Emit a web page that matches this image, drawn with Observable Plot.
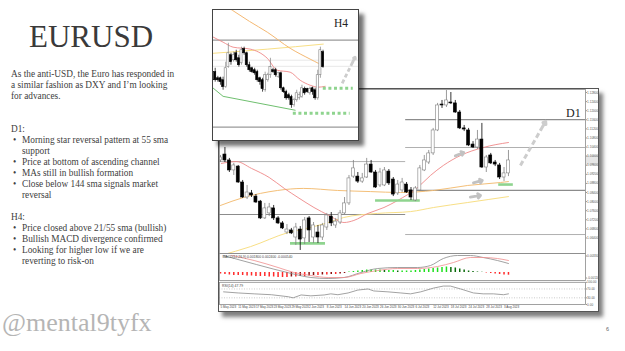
<!DOCTYPE html>
<html>
<head>
<meta charset="utf-8">
<script src="https://cdn.jsdelivr.net/npm/d3@7"></script>
<script src="https://cdn.jsdelivr.net/npm/@observablehq/plot@0.6"></script>
<style>
html,body{margin:0;padding:0;background:#fff;}
#slide{position:relative;width:625px;height:351px;overflow:hidden;background:#fff;font-family:"Liberation Serif","Times New Roman",serif;color:#404040;}
.abs{position:absolute;}
#title{left:29px;top:21px;font-size:31px;line-height:31px;color:#3a3a3a;white-space:nowrap;}
#body{left:11px;top:69.4px;font-size:9.3px;line-height:11px;white-space:nowrap;}
.li{position:relative;padding-left:11px;}
.li .b{position:absolute;left:2px;}
#handle{left:2px;top:310px;font-size:26px;line-height:26px;color:#b5b5b5;white-space:nowrap;}
#pnum{left:606px;top:326px;font-size:5.5px;color:#666;font-family:"Liberation Sans",Arial,sans-serif;}
#d1frame{left:218px;top:88px;width:379px;height:222px;border:1px solid #555;background:#fff;box-shadow:4px 5px 4px rgba(0,0,0,.5);overflow:hidden;}
#h4frame{left:212px;top:9px;width:145px;height:130px;border:1.3px solid #444;background:#fff;box-shadow:5px 5px 4px rgba(0,0,0,.55);overflow:hidden;}
.panel{position:absolute;left:0;}
.lbl{position:absolute;font-family:"Liberation Serif","Times New Roman",serif;color:#222;white-space:nowrap;}
#pricebox{position:absolute;left:367px;top:66px;width:12px;height:10px;background:#e6e6e6;}
svg{display:block;}
</style>
</head>
<body>
<div id="slide">
  <div id="title" class="abs">EURUSD</div>
  <div id="body" class="abs">As the anti-USD, the Euro has responded in<br>a similar fashion as DXY and I’m looking<br>for advances.<br><br><br>D1:
    <div class="li"><span class="b">•</span>Morning star reversal pattern at 55 sma<br>support</div>
    <div class="li"><span class="b">•</span>Price at bottom of ascending channel</div>
    <div class="li"><span class="b">•</span>MAs still in bullish formation</div>
    <div class="li"><span class="b">•</span>Close below 144 sma signals market<br>reversal</div>
    <br>H4:
    <div class="li"><span class="b">•</span>Price closed above 21/55 sma (bullish)</div>
    <div class="li"><span class="b">•</span>Bullish MACD divergence confirmed</div>
    <div class="li"><span class="b">•</span>Looking for higher low if we are<br>reverting to risk-on</div>
  </div>
  <div id="handle" class="abs">@mental9tyfx</div>
  <div id="pnum" class="abs">6</div>
  <div id="d1frame" class="abs">
    <div id="pricebox"></div>
    <div id="d1price" class="panel" style="top:0"></div>
    <div id="d1macd" class="panel" style="top:164px"></div>
    <div id="d1rsi" class="panel" style="top:191px"></div>
    <div class="lbl" style="left:347px;top:17.5px;font-size:12px;line-height:12px;">D1</div>
  </div>
  <div id="h4frame" class="abs">
    <div id="h4price" class="panel" style="top:0"></div>
    <div class="lbl" style="left:121px;top:8px;font-size:11.5px;line-height:11.5px;">H4</div>
  </div>
</div>
<script>
// ---------------- D1 data ----------------
const d1Dates = ["5 May 2023","8 May 2023","9 May 2023","10 May 2023","11 May 2023","12 May 2023","15 May 2023","16 May 2023","17 May 2023","18 May 2023","19 May 2023","22 May 2023","23 May 2023","24 May 2023","25 May 2023","26 May 2023","29 May 2023","30 May 2023","31 May 2023","1 Jun 2023","2 Jun 2023","5 Jun 2023","6 Jun 2023","7 Jun 2023","8 Jun 2023","9 Jun 2023","12 Jun 2023","13 Jun 2023","14 Jun 2023","15 Jun 2023","16 Jun 2023","19 Jun 2023","20 Jun 2023","21 Jun 2023","22 Jun 2023","23 Jun 2023","26 Jun 2023","27 Jun 2023","28 Jun 2023","29 Jun 2023","30 Jun 2023","3 Jul 2023","4 Jul 2023","5 Jul 2023","6 Jul 2023","7 Jul 2023","10 Jul 2023","11 Jul 2023","12 Jul 2023","13 Jul 2023","14 Jul 2023","17 Jul 2023","18 Jul 2023","19 Jul 2023","20 Jul 2023","21 Jul 2023","24 Jul 2023","25 Jul 2023","26 Jul 2023","27 Jul 2023","28 Jul 2023","31 Jul 2023","1 Aug 2023","2 Aug 2023","3 Aug 2023","4 Aug 2023"];
const d1Open = [1.0981,1.1007,1.0981,1.0937,1.0954,1.0884,1.0818,1.0836,1.0822,1.0800,
1.0726,1.0748,1.0770,1.0726,1.0704,1.0664,1.0673,1.0642,1.0677,1.0638,
1.0726,1.0642,1.0664,1.0642,1.0686,1.0734,1.0695,1.0708,1.0748,1.0792,
1.0910,1.0910,1.0888,1.0906,1.0963,1.0928,1.0871,1.0871,1.0932,1.0897,
1.0836,1.0849,1.0875,1.0849,1.0805,1.0849,1.0937,1.0972,1.1012,1.1113,
1.1227,1.1223,1.1236,1.1232,1.1192,1.1122,1.1113,1.1051,1.1038,1.1073,
1.0950,1.1003,1.0972,1.0959,1.0906,1.0924];
const d1Close = [1.0994,1.0981,1.0937,1.0959,1.0884,1.0818,1.0840,1.0827,1.0796,1.0726,
1.0770,1.0774,1.0726,1.0704,1.0682,1.0677,1.0660,1.0686,1.0633,1.0717,
1.0673,1.0695,1.0642,1.0695,1.0739,1.0704,1.0712,1.0748,1.0792,1.0902,
1.0946,1.0888,1.0902,1.0963,1.0928,1.0862,1.0928,1.0937,1.0880,1.0831,
1.0875,1.0884,1.0840,1.0818,1.0858,1.0946,1.0981,1.1012,1.1113,1.1223,
1.1223,1.1245,1.1232,1.1192,1.1122,1.1117,1.1047,1.1038,1.1073,1.0950,
1.0994,1.0968,1.0963,1.0906,1.0924,1.0981];
const d1High = [1.1003,1.1038,1.0990,1.0968,1.0959,1.0893,1.0871,1.0849,1.0831,1.0805,
1.0792,1.0792,1.0783,1.0734,1.0712,1.0699,1.0682,1.0704,1.0690,1.0730,
1.0734,1.0708,1.0695,1.0704,1.0748,1.0752,1.0726,1.0761,1.0818,1.0915,
1.0981,1.0928,1.0924,1.0990,1.0981,1.0937,1.0946,1.0950,1.0941,1.0906,
1.0893,1.0902,1.0884,1.0862,1.0866,1.0959,1.1003,1.1025,1.1122,1.1232,
1.1245,1.1289,1.1280,1.1245,1.1201,1.1135,1.1122,1.1064,1.1113,1.1144,
1.1003,1.1012,1.0981,1.0968,1.0950,1.1025];
const d1Low = [1.0972,1.0972,1.0928,1.0915,1.0880,1.0814,1.0809,1.0818,1.0792,1.0721,
1.0721,1.0734,1.0717,1.0699,1.0677,1.0655,1.0655,1.0607,1.0585,1.0611,
1.0620,1.0616,1.0616,1.0629,1.0673,1.0690,1.0682,1.0699,1.0743,1.0783,
1.0902,1.0880,1.0880,1.0902,1.0924,1.0858,1.0862,1.0866,1.0871,1.0822,
1.0827,1.0840,1.0836,1.0805,1.0800,1.0844,1.0932,1.0963,1.1003,1.1108,
1.1210,1.1214,1.1227,1.1188,1.1117,1.1108,1.1042,1.1034,1.1029,1.0946,
1.0928,1.0963,1.0954,1.0897,1.0888,1.0910];
// moving averages: [candle index, price]
const d1MA21 = [[1.2,1.0968],[4.6,1.0976],[8,1.0946],[12,1.0906],[15.4,1.0858],[18.5,1.0818],[22.1,1.0774],[25.5,1.0739],[28.9,1.0708],[31.1,1.0717],[34.3,1.0748],[37.9,1.0774],[41,1.0805],[45.5,1.0862],[48.4,1.0915],[51.3,1.0959],[55.2,1.1003],[60.3,1.1038],[66,1.1060]];
const d1MA55 = [[1,1.0783],[6.2,1.0818],[10,1.0836],[13.9,1.0849],[19.7,1.0858],[27.4,1.0849],[34.9,1.0844],[41.6,1.0840],[49.1,1.0849],[56.8,1.0871],[64.2,1.0884],[66,1.0888]];
const d1MA144 = [[1,1.0563],[7.8,1.0602],[16.3,1.0664],[21.3,1.0686],[24.7,1.0704],[28.8,1.0730],[36.4,1.0748],[43.9,1.0756],[49.1,1.0774],[56.8,1.0796],[66,1.0822]];
// horizontal levels
const d1LevelsLeftMajor = [1.0743];
const d1LevelsLeftMinor = [1.0976];
const d1LevelsRightMajor = [1.1161, 1.0849];
const d1LevelsRightMinor = [1.1038, 1.0655];
const d1LevelSplit = 42.8;
const d1Support = [{i1:16.8,i2:24.7,v:1.0616},{i1:36,i2:46.1,v:1.0805},{i1:63.8,i2:67.1,v:1.0875}];
const d1SmallArrows = [{i1:54,v1:1.1001,i2:55.9,v2:1.1016},{i1:58.1,v1:1.0882,i2:60.1,v2:1.0893},{i1:57.4,v1:1.0820,i2:59.7,v2:1.0827}];
const d1BigArrow = [{i1:68.7,v1:1.0959,i2:74.4,v2:1.1153}];
const d1PriceTicks = [1.0640,1.0680,1.0720,1.0760,1.0800,1.0840,1.0880,1.0920,1.0960,1.1000,1.1040,1.1080,1.1120,1.1160,1.1200,1.1240,1.1280];
const d1TickLabels = ["5 May 2023","11 May 2023","17 May 2023","23 May 2023","29 May 2023","2 Jun 2023","8 Jun 2023","14 Jun 2023","20 Jun 2023","26 Jun 2023","30 Jun 2023","6 Jul 2023","12 Jul 2023","18 Jul 2023","24 Jul 2023","28 Jul 2023","3 Aug 2023"];
// MACD
const macdHist = [-0.0003,-0.0004,-0.0005,-0.0006,-0.0006,
-0.0006,-0.0007,-0.0007,-0.0008,-0.0008,
-0.0008,-0.0009,-0.0009,-0.0010,-0.0010,-0.0010,
-0.0009,-0.0009,-0.0008,-0.0008,-0.0007,
-0.0006,-0.0006,-0.0005,-0.0005,-0.0004,-0.0004,-0.0003,-0.0002,
0.0001,0.0002,0.0003,0.0004,0.0005,0.0005,
0.0005,0.0005,0.0004,0.0004,0.0004,0.0003,0.0003,0.0003,0.0003,0.0004,
0.0005,0.0006,0.0007,0.0008,0.0009,0.0010,0.0011,
0.0010,0.0009,0.0007,0.0005,0.0003,
0.0002,0.0001,0.00006,
-0.0001,-0.0002,-0.0003,-0.0004,-0.0005,-0.00054];
const macdMain = [[1.7,0.0034],[9.1,0.0016],[17,-0.0002],[21.4,-0.0010],[25.3,-0.0012],[28.9,-0.0010],[32.7,0.0000],[36.5,0.0008],[41,0.0010],[45.5,0.0010],[48.4,0.0014],[51.3,0.0028],[54.5,0.0034],[57.4,0.0034],[60.3,0.0030],[63.5,0.0024],[66,0.0018]];
const macdSignal = [[3.5,0.0034],[8.6,0.0024],[14,0.0010],[17.6,0.0000],[21.4,-0.0006],[25.3,-0.0010],[28.9,-0.0010],[32.7,-0.0002],[36.5,0.0004],[41,0.0008],[45.5,0.0008],[50,0.0012],[53.6,0.0020],[57.4,0.0030],[60.3,0.0030],[63.5,0.0028],[66,0.0024]];
const macdTicks = [0.0033,-0.0011];
const macdHeader = "MACD(12,26,9) 0.001800 0.002400 -0.000540";
// RSI
const rsi = [[1.7,57],[5,52],[8.6,48],[12.5,44],[16.3,35],[17.4,30],[19.2,43],[21.4,39],[24.4,43],[25.9,48],[27.5,44],[29.8,52],[32,65],[34.3,70],[35.6,61],[38.8,57],[41.7,52],[43.9,48],[46.2,57],[49.1,74],[51.3,83],[52.9,83],[55.2,70],[58.1,52],[60.3,48],[62.6,48],[64.9,44],[66,48]];
const rsiLevels = [70,30];
const rsiTicks = [100,70,30,0];
const rsiHeader = "RSI(14) 47.79";

// ---------------- H4 data ----------------
const h4Open = [1.1045,1.1023,1.1023,1.1016,1.0991,1.1063,1.1106,1.1088,1.1113,1.1095,1.1077,1.1128,1.1113,1.1070,1.1059,1.1052,1.1045,1.1023,1.1016,1.0980,1.1016,1.1034,1.1052,1.1052,1.1027,1.1041,1.0987,1.0973,1.0962,1.0955,1.0926,1.0944,1.0951,1.0955,1.0984,1.0984,1.0969,1.0987,1.0980,1.0951,1.1034,1.1117];
const h4Close = [1.1016,1.1016,1.1009,1.0991,1.1059,1.1113,1.1081,1.1106,1.1088,1.1070,1.1124,1.1113,1.1070,1.1052,1.1045,1.1041,1.1016,1.1009,1.0984,1.1034,1.1034,1.1063,1.1045,1.1034,1.1041,1.0987,1.0973,1.0951,1.0951,1.0926,1.0944,1.0969,1.0962,1.0987,1.0969,1.0973,1.0984,1.0973,1.0951,1.1034,1.1124,1.1063];
const h4High = [1.1059,1.1030,1.1027,1.1027,1.1081,1.1149,1.1113,1.1117,1.1124,1.1106,1.1135,1.1135,1.1117,1.1081,1.1063,1.1059,1.1052,1.1027,1.1023,1.1045,1.1041,1.1095,1.1059,1.1059,1.1045,1.1045,1.0991,1.0980,1.0969,1.0962,1.0951,1.0980,1.0973,1.0998,1.0991,1.0987,1.0991,1.0991,1.0987,1.1052,1.1135,1.1124];
const h4Low = [1.1009,1.1009,1.0998,1.0980,1.0987,1.1059,1.1070,1.1081,1.1081,1.1063,1.1070,1.1106,1.1063,1.1045,1.1041,1.1034,1.1009,1.0998,1.0973,1.0973,1.1009,1.1023,1.1041,1.1027,1.1023,1.0980,1.0969,1.0944,1.0944,1.0915,1.0919,1.0937,1.0944,1.0951,1.0962,1.0969,1.0962,1.0962,1.0944,1.0944,1.1023,1.1059];
const h4MA21 = [[0.3,1.1171],[4,1.1153],[7.8,1.1135],[14.3,1.1128],[20.8,1.1095],[24.6,1.1052],[29.5,1.1045],[33.3,1.1016],[37.1,1.0998],[40.2,1.0991],[42.8,1.0994]];
const h4MA55 = [[4,1.1290],[7.5,1.1268],[14,1.1228],[20.8,1.1189],[29.5,1.1131],[37.1,1.1092],[40.2,1.1077]];
const h4MA144 = [[0.3,1.1113],[21,1.1128],[42.1,1.1146]];
const h4Channel = [[0.3,1.0987],[4,1.0958],[31.4,1.0908]];
const h4LevelsMajor = [1.1160, 1.0847];
const h4LevelsMinor = [1.1088, 1.1066];
const h4Dotted = [{i1:42.1,i2:53.5,v:1.0987},{i1:30.7,i2:52.3,v:1.0897}];
const h4BigArrow = [{i1:49.3,v1:1.1005,i2:54.2,v2:1.1099}];

// ---------------- helpers ----------------
const pts = a => a.map(([i,v]) => ({i, v}));
const ohlc = (o,h,l,c) => o.map((_,k) => ({i:k+1, o:o[k], h:h[k], l:l[k], c:c[k]}));
function candleMarks(rows, half, sw){
  const up = rows.filter(d => d.c >= d.o), dn = rows.filter(d => d.c < d.o);
  return [
    Plot.ruleX(up, {x:"i", y1:"l", y2:"h", stroke:"#808080", strokeWidth:sw}),
    Plot.ruleX(dn, {x:"i", y1:"l", y2:"h", stroke:"#000", strokeWidth:sw}),
    Plot.rect(up, {x1:d=>d.i-half, x2:d=>d.i+half, y1:"o", y2:"c", fill:"#fff", stroke:"#808080", strokeWidth:0.6}),
    Plot.rect(dn, {x1:d=>d.i-half, x2:d=>d.i+half, y1:"o", y2:"c", fill:"#000", stroke:"#000", strokeWidth:0.6})
  ];
}
function dashedArrow(data, opts){
  const f = 0.82;
  return [
    Plot.link(data, {x1:"i1", y1:"v1", x2:d=>d.i1+(d.i2-d.i1)*f, y2:d=>d.v1+(d.v2-d.v1)*f,
      stroke:opts.stroke, strokeWidth:opts.w, strokeDasharray:opts.dash}),
    Plot.arrow(data, {x1:d=>d.i1+(d.i2-d.i1)*f, y1:d=>d.v1+(d.v2-d.v1)*f, x2:"i2", y2:"v2",
      stroke:opts.stroke, strokeWidth:opts.w, headLength:opts.head, headAngle:70})
  ];
}
const baseStyle = {background:"transparent", fontFamily:"Liberation Sans, Arial, sans-serif", overflow:"visible"};
const axisOpts = {anchor:"right", label:null, tickSize:1, tickPadding:0.6, fontSize:3.1, fill:"#555", stroke:"#999"};

// ---------------- D1 price ----------------
const xDom = [0.774, 83.39];
const d1Candles = ohlc(d1Open, d1High, d1Low, d1Close);
const d1Price = Plot.plot({
  width:379, height:164, marginTop:0, marginBottom:0, marginLeft:0, marginRight:13,
  x:{domain:xDom, axis:null}, y:{domain:[1.05716,1.12932], axis:null, label:null},
  style:baseStyle,
  marks:[
    Plot.ruleY(d1LevelsLeftMinor, {x1:()=>xDom[0], x2:()=>d1LevelSplit, stroke:"#b0b0b0", strokeWidth:1}),
    Plot.ruleY(d1LevelsLeftMajor, {x1:()=>xDom[0], x2:()=>d1LevelSplit, stroke:"#8c8c8c", strokeWidth:1.1}),
    Plot.ruleY(d1LevelsRightMinor, {x1:()=>d1LevelSplit, x2:()=>xDom[1], stroke:"#b0b0b0", strokeWidth:1}),
    Plot.ruleY(d1LevelsRightMajor, {x1:()=>d1LevelSplit, x2:()=>xDom[1], stroke:"#8c8c8c", strokeWidth:1.2}),
    Plot.line(pts(d1MA144), {x:"i", y:"v", stroke:"#f8df86", strokeWidth:1, curve:"monotone-x", clip:true}),
    Plot.line(pts(d1MA55), {x:"i", y:"v", stroke:"#f4bf78", strokeWidth:1, curve:"monotone-x", clip:true}),
    Plot.line(pts(d1MA21), {x:"i", y:"v", stroke:"#ee8888", strokeWidth:0.9, curve:"monotone-x", clip:true}),
    Plot.ruleY(d1Support, {x1:"i1", x2:"i2", y:"v", stroke:"#8fd48f", strokeWidth:2.6}),
    ...candleMarks(d1Candles, 0.34, 0.8),
    Plot.arrow(d1SmallArrows, {x1:"i1", y1:"v1", x2:"i2", y2:"v2", stroke:"#c2c2c2", strokeWidth:2.8, headLength:4.5, headAngle:80}),
    ...dashedArrow(d1BigArrow, {stroke:"#cdcdcd", w:3, dash:"5,3", head:7}),
    Plot.axisY(d1PriceTicks, {...axisOpts, tickFormat:d=>d.toFixed(5)}),
    Plot.frame({stroke:"#8a8a8a", strokeWidth:0.8})
  ]
});
document.getElementById("d1price").append(d1Price);

// ---------------- MACD ----------------
const histRows = macdHist.map((v,k) => {
  const prev = k > 0 ? macdHist[k-1] : v;
  const col = v < 0 ? (v <= prev ? "#ff2a2a" : "#8b1010") : (v >= prev ? "#1ee01e" : "#0a6a0a");
  return {i:k+1, v, col};
});
const macdPlot = Plot.plot({
  width:379, height:27, marginTop:0, marginBottom:0, marginLeft:0, marginRight:13,
  x:{domain:xDom, axis:null}, y:{domain:[-0.0016,0.0038], axis:null, label:null},
  color:{type:"identity"},
  style:baseStyle,
  marks:[
    Plot.ruleX(histRows, {x:"i", y1:()=>0, y2:"v", stroke:"col", strokeWidth:1.5}),
    Plot.line(pts(macdMain), {x:"i", y:"v", stroke:"#8a8a8a", strokeWidth:0.8, curve:"monotone-x"}),
    Plot.line(pts(macdSignal), {x:"i", y:"v", stroke:"#ef8d8d", strokeWidth:0.8, curve:"monotone-x"}),
    Plot.text([macdHeader], {frameAnchor:"top-left", dx:3, dy:2.5, fontSize:3.4, fill:"#444", text:d=>d}),
    Plot.axisY(macdTicks, {...axisOpts, tickFormat:d=>d.toFixed(5)}),
    Plot.frame({stroke:"#8a8a8a", strokeWidth:0.8})
  ]
});
document.getElementById("d1macd").append(macdPlot);

// ---------------- RSI ----------------
const rsiPlot = Plot.plot({
  width:379, height:31, marginTop:1.8, marginBottom:7, marginLeft:0, marginRight:13,
  x:{domain:xDom, axis:null}, y:{domain:[0,100], axis:null, label:null},
  style:baseStyle,
  marks:[
    Plot.ruleY(rsiLevels, {stroke:"#aaa", strokeWidth:0.6, strokeDasharray:"1,1.5"}),
    Plot.line(pts(rsi), {x:"i", y:"v", stroke:"#8a8a8a", strokeWidth:0.8}),
    Plot.text([rsiHeader], {frameAnchor:"top-left", dx:2.5, dy:2.5, fontSize:3.4, fill:"#444", text:d=>d}),
    Plot.axisY(rsiTicks, {...axisOpts, tickFormat:d=>d.toFixed(2)}),
    Plot.text(d1TickLabels, {x:d=>d1Dates.indexOf(d)+1, frameAnchor:"bottom", dy:3.4, fontSize:3.0, textAnchor:"start", fill:"#444", text:d=>d}),
    Plot.frame({stroke:"#8a8a8a", strokeWidth:0.8})
  ]
});
document.getElementById("d1rsi").append(rsiPlot);

// ---------------- H4 ----------------
const h4Candles = ohlc(h4Open, h4High, h4Low, h4Close);
const h4XDom = [0.354, 55.49];
const h4Plot = Plot.plot({
  width:145, height:130, margin:0,
  x:{domain:h4XDom, axis:null}, y:{domain:[1.0799,1.1267], axis:null},
  style:baseStyle,
  marks:[
    Plot.ruleY(h4LevelsMinor, {stroke:"#e2e2e2", strokeWidth:0.8}),
    Plot.ruleY(h4LevelsMajor, {stroke:"#9a9a9a", strokeWidth:1.2}),
    Plot.line(pts(h4MA144), {x:"i", y:"v", stroke:"#f8df86", strokeWidth:1, curve:"monotone-x", clip:true}),
    Plot.line(pts(h4MA55), {x:"i", y:"v", stroke:"#f4b872", strokeWidth:1, curve:"monotone-x", clip:true}),
    Plot.line(pts(h4MA21), {x:"i", y:"v", stroke:"#ee8888", strokeWidth:0.9, curve:"monotone-x", clip:true}),
    Plot.line(pts(h4Channel), {x:"i", y:"v", stroke:"#5fb85f", strokeWidth:0.9, clip:true}),
    Plot.ruleY(h4Dotted, {x1:"i1", x2:"i2", y:"v", stroke:"#8fd48f", strokeWidth:3, strokeDasharray:"3,2.6"}),
    ...candleMarks(h4Candles, 0.4, 0.7),
    ...dashedArrow(h4BigArrow, {stroke:"#cdcdcd", w:2.8, dash:"4,2.5", head:6})
  ]
});
document.getElementById("h4price").append(h4Plot);
</script>
</body>
</html>
